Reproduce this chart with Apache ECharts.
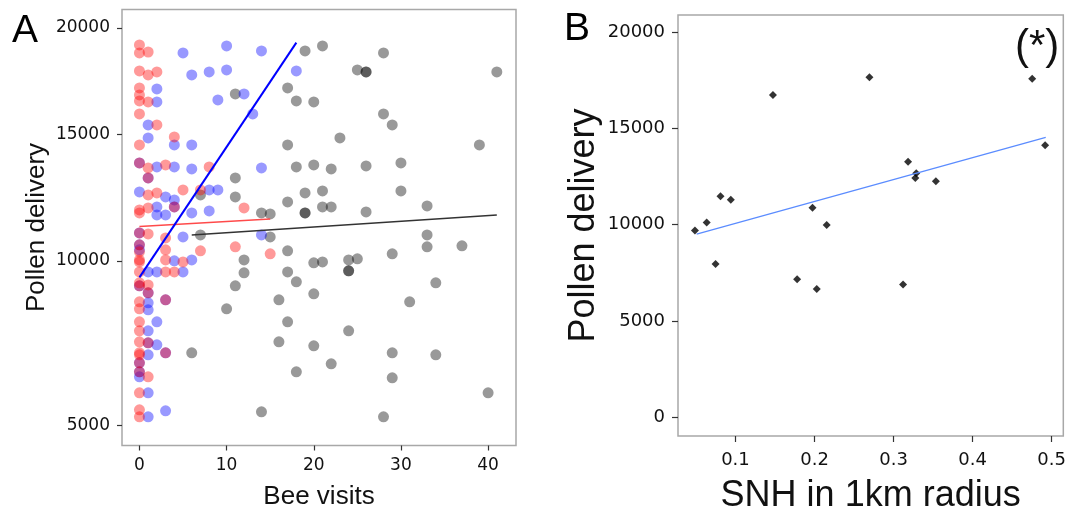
<!DOCTYPE html>
<html><head><meta charset="utf-8">
<script src="https://cdn.jsdelivr.net/npm/echarts@6/dist/echarts.min.js"></script>
<style>html,body{margin:0;padding:0;background:#fff}#c{width:1069px;height:519px}</style>
</head><body><div id="c"></div><script>
// ---------- Panel A data (bee visits vs pollen delivery) ----------
const redVisits = [0,0,1,0,1,2,0,0,0,1,0,2,4,0,0,1,3,8,1,1,2,5,7,0,0,1,4,12,0,1,3,0,0,3,7,11,15,0,0,3,5,3,4,0,0,0,1,1,3,0,0,0,0,0,1,0,0,3,0,0,1,0,0,0];
const redPollen = [19155,18762,18810,17900,17706,17848,17097,16774,16500,16452,15909,15419,14893,14548,13787,13579,13704,13620,13167,12483,12562,12681,12681,11779,11894,11972,12011,11972,11018,10981,10833,10576,10322,10394,10358,10503,10250,10034,9963,10034,9963,9611,9611,9611,9232,9129,9163,8893,8660,8594,8365,7947,7664,7326,7296,6996,6937,6996,6701,6441,6299,5856,5402,5221];
const blueVisits = [5,10,14,6,8,10,2,2,12,9,18,13,1,1,4,6,0,2,4,6,14,1,0,3,4,8,9,2,2,3,4,6,8,14,5,0,0,0,4,6,2,5,1,0,1,3,1,1,2,1,1,2,1,3,0,0,0,1,1,3];
const bluePollen = [18762,19106,18860,17706,17848,17943,17050,16452,16820,16543,17900,15909,15419,14850,14548,14548,13787,13620,13620,13537,13579,13167,12602,12404,12285,12681,12681,12011,11701,11701,12011,11779,11856,10944,10870,11018,10576,10394,10000,10034,9611,9611,9611,9129,8893,8660,8562,8332,7947,7664,7296,7236,6937,6996,6701,6441,6299,5856,5221,5376];
const blackVisits = [11,21,19,28,25,26,26,41,17,18,20,28,29,23,39,17,18,20,22,26,30,11,7,11,19,21,30,17,21,22,19,19,26,33,14,15,7,15,33,33,37,17,29,12,12,11,10,20,21,24,25,24,24,17,18,20,16,34,31,17,24,16,20,29,34,22,18,29,40,14,28,6];
const blackPollen = [16820,19106,18860,18762,17943,17848,17848,17848,17097,16500,16452,15909,15419,14850,14548,14548,13620,13704,13537,13662,13787,13167,12483,12404,12562,12641,12641,12207,12011,12011,11779,11779,11817,12050,11779,11740,10944,10870,10944,10503,10540,10358,10250,10034,9577,9129,8365,9928,9963,10034,10070,9646,9646,9611,9266,8860,8660,9232,8594,7947,7664,7326,7206,6996,6937,6672,6441,6270,5856,5350,5221,6996];
// fitted lines (end points)
const fitRedX = [0, 15], fitRedY = [11255, 11548];
const fitBlueX = [0, 18], fitBlueY = [9420, 19268];
const fitBlackX = [6, 41], fitBlackY = [10944, 11701];
const yTicksA = [5000, 10000, 15000, 20000];
const xTicksA = [0, 10, 20, 30, 40];

// ---------- Panel B data (SNH vs pollen delivery) ----------
const snh = [0.0487,0.0636,0.0811,0.0941,0.1474,0.0748,0.178,0.2695,0.4753,0.4917,0.3183,0.3287,0.3275,0.3535,0.1974,0.2154,0.2028,0.312];
const pollenB = [9700,10110,11480,11290,16730,7960,7170,17650,17580,14120,13270,12670,12420,12250,10880,9980,6660,6900];
const fitBX = [0.0509, 0.4925], fitBY = [9505, 14533];
const yTicksB = [0, 5000, 10000, 15000, 20000];
const xTicksB = [0.1, 0.2, 0.3, 0.4, 0.5];

const sq = v => Math.sqrt(v);
const ptsA = (xs, ys) => xs.map((x, i) => [x, sq(ys[i])]);
const ptsB = (xs, ys) => xs.map((x, i) => [x, ys[i]]);

const tickFont = {fontFamily: 'DejaVu Sans', color: '#111'};
const nameFont = {fontFamily: 'Liberation Sans', color: '#111'};
const noLine = {show: false, onZero: false};

const chart = echarts.init(document.getElementById('c'), null, {renderer: 'canvas'});
chart.setOption({
  animation: false,
  backgroundColor: '#fff',
  title: [
    {text: 'A', left: 7, top: 7, textStyle: {fontFamily: 'Liberation Sans', fontSize: 39, fontWeight: 'normal', color: '#000'}},
    {text: 'B', left: 559, top: 5, textStyle: {fontFamily: 'Liberation Sans', fontSize: 39, fontWeight: 'normal', color: '#000'}}
  ],
  graphic: [
    {type: 'text', left: 1015, top: 26, style: {text: '(*)', font: '42px "Liberation Sans"', fill: '#111'}}
  ],
  grid: [
    {left: 122, top: 9.5, width: 394, height: 436, show: true, borderColor: '#a8a8a8', borderWidth: 1.5, backgroundColor: '#fff'},
    {left: 678, top: 15, width: 387, height: 428, show: true, borderColor: '#a8a8a8', borderWidth: 1.5, backgroundColor: '#fff'}
  ],
  xAxis: [
    {type: 'value', gridIndex: 0, min: -2, max: 43.2,
     name: 'Bee visits', nameLocation: 'middle', nameGap: 38,
     nameTextStyle: Object.assign({fontSize: 26}, nameFont),
     axisLine: noLine, splitLine: {show: false},
     axisTick: {show: true, length: 5, customValues: xTicksA, lineStyle: {color: '#333', width: 1.2}},
     axisLabel: Object.assign({fontSize: 17, margin: 12, customValues: xTicksA, formatter: v => String(v)}, tickFont)},
    {type: 'value', gridIndex: 1, min: 0.0273, max: 0.5147,
     name: 'SNH in 1km radius', nameLocation: 'middle', nameGap: 42,
     nameTextStyle: Object.assign({fontSize: 36}, nameFont),
     axisLine: noLine, splitLine: {show: false},
     axisTick: {show: true, length: 6, customValues: xTicksB, lineStyle: {color: '#333', width: 1.2}},
     axisLabel: Object.assign({fontSize: 18, margin: 15, customValues: xTicksB, formatter: v => v.toFixed(1)}, tickFont)}
  ],
  yAxis: [
    {type: 'value', gridIndex: 0, min: 67.15, max: 144.71,
     name: 'Pollen delivery', nameLocation: 'middle', nameGap: 72, nameRotate: 90,
     nameTextStyle: Object.assign({fontSize: 26}, nameFont),
     axisLine: noLine, splitLine: {show: false},
     axisTick: {show: true, length: 5, customValues: yTicksA.map(sq), lineStyle: {color: '#333', width: 1.2}},
     axisLabel: Object.assign({fontSize: 17, margin: 12, customValues: yTicksA.map(sq), formatter: v => String(Math.round(v * v / 100) * 100)}, tickFont)},
    {type: 'value', gridIndex: 1, min: -971, max: 20884,
     name: 'Pollen delivery', nameLocation: 'middle', nameGap: 76, nameRotate: 90,
     nameTextStyle: Object.assign({fontSize: 36}, nameFont),
     axisLine: noLine, splitLine: {show: false},
     axisTick: {show: true, length: 6, customValues: yTicksB, lineStyle: {color: '#333', width: 1.2}},
     axisLabel: Object.assign({fontSize: 18, margin: 13, customValues: yTicksB, formatter: v => String(v)}, tickFont)}
  ],
  series: [
    {type: 'scatter', xAxisIndex: 0, yAxisIndex: 0, symbolSize: 11, data: ptsA(blackVisits, blackPollen),
     itemStyle: {color: 'rgba(0,0,0,0.5)'}},
    {type: 'scatter', xAxisIndex: 0, yAxisIndex: 0, symbolSize: 11, data: ptsA(blueVisits, bluePollen),
     itemStyle: {color: 'rgba(0,0,255,0.5)'}},
    {type: 'scatter', xAxisIndex: 0, yAxisIndex: 0, symbolSize: 11, data: ptsA(redVisits, redPollen),
     itemStyle: {color: 'rgba(255,0,0,0.5)'}},
    {type: 'line', xAxisIndex: 0, yAxisIndex: 0, data: ptsA(fitRedX, fitRedY), symbol: 'none',
     lineStyle: {color: '#ff4a4a', width: 1.5}},
    {type: 'line', xAxisIndex: 0, yAxisIndex: 0, data: ptsA(fitBlackX, fitBlackY), symbol: 'none',
     lineStyle: {color: '#333', width: 1.5}},
    {type: 'line', xAxisIndex: 0, yAxisIndex: 0, data: ptsA(fitBlueX, fitBlueY), symbol: 'none',
     lineStyle: {color: '#0000ff', width: 2}},
    {type: 'line', xAxisIndex: 1, yAxisIndex: 1, data: ptsB(fitBX, fitBY), symbol: 'none',
     lineStyle: {color: '#5b8cff', width: 1.2}},
    {type: 'scatter', xAxisIndex: 1, yAxisIndex: 1, symbol: 'diamond', symbolSize: 8, data: ptsB(snh, pollenB),
     itemStyle: {color: '#000'}}
  ]
});
</script></body></html>
